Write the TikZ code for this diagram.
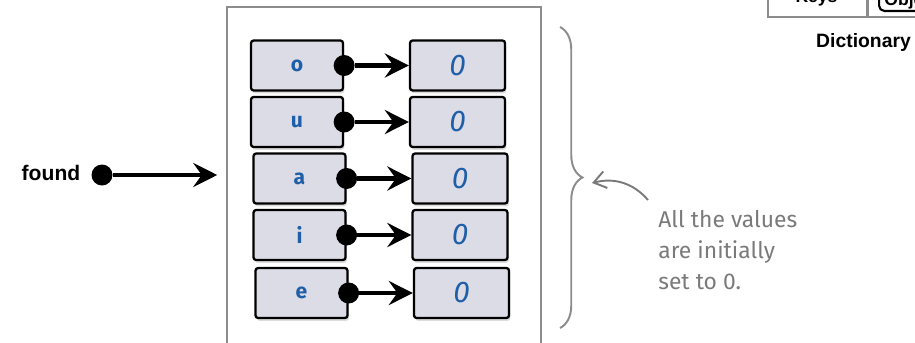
\documentclass[tikz,border=0pt]{standalone}
\usepackage{fontspec}
\setmainfont{Liberation Sans}
\newfontfamily\handfont{Fira Sans}
\usetikzlibrary{positioning,arrows.meta,shadows,decorations.pathreplacing}
\definecolor{keyblue}{HTML}{1F5FA8}
\definecolor{boxfill}{HTML}{DCDCE6}
\definecolor{framegray}{HTML}{8C8C8C}
\definecolor{notegray}{HTML}{7A7A7A}
\tikzset{
  flowarrow/.style={-{Stealth[length=4.8mm,width=4.8mm,inset=1.7mm]}, line width=2.6pt},
  notearrow/.style={-{Straight Barb[length=2.4mm,width=3.4mm]}, draw=notegray, line width=1.1pt},
  keybox/.style={draw, line width=1.3pt, rounded corners=1.5pt, fill=boxfill, drop shadow={shadow xshift=0.8pt, shadow yshift=-1.6pt, fill=gray!55}, minimum width=1.84cm, minimum height=1.0cm, font=\handfont\bfseries\fontsize{12}{12}\selectfont, text=keyblue},
  valbox/.style={keybox, minimum width=1.9cm, font=\handfont\itshape\fontsize{17}{17}\selectfont},
  pindot/.style={circle, fill=black, minimum size=4.2mm, inner sep=0pt},
  framebox/.style={draw=framegray, line width=1.1pt, minimum width=6.28cm, minimum height=6.9cm},
  bracemark/.style={draw=framegray, line width=1.1pt, decorate, decoration={brace, amplitude=4.5mm}},
  note/.style={text=notegray, font=\handfont\fontsize{13}{17.6}\selectfont, align=left, inner sep=0pt},
  cellbox/.style={draw=framegray, line width=0.9pt, inner sep=0pt},
  objbox/.style={draw, line width=1.2pt, rounded corners=3pt, inner sep=0pt}
}
\begin{document}
\begin{tikzpicture}
  \useasboundingbox (0,0) rectangle (18.3,-6.84);
  \clip (0,0) rectangle (18.3,-6.84);
  % top right corner of the dictionary table
  \node[cellbox, anchor=south west, minimum width=1.98cm, minimum height=0.8cm] (keys) at (15.34,-0.36) {};
  \node[cellbox, anchor=south west, minimum width=2.0cm, minimum height=0.8cm] (objs) at (keys.south east) {};
  \node[font=\bfseries, anchor=base] (keystext) at (16.33,-0.04) {Keys};
  \node[objbox, anchor=south west, minimum width=1.2cm, minimum height=0.6cm] (obj) at (17.56,-0.24) {};
  \node[font=\bfseries, anchor=base west, inner sep=0pt] (objtext) at (17.68,-0.1) {Objects};
  \node[font=\bfseries\fontsize{11}{13}\selectfont] (dict) at (17.27,-0.86) {Dictionary};
  % the dictionary
  \node[framebox] (frame) at (7.68,-3.59) {};
  \node[keybox] (ko) at (5.94,-1.31) {o};
  \node[valbox] (vo) at (9.15,-1.31) {0};
  \node[keybox] (ku) at (5.94,-2.44) {u};
  \node[valbox] (vu) at (9.15,-2.44) {0};
  \node[keybox] (ka) at (5.99,-3.57) {a};
  \node[valbox] (va) at (9.20,-3.57) {0};
  \node[keybox] (ki) at (5.99,-4.70) {i};
  \node[valbox] (vi) at (9.20,-4.70) {0};
  \node[keybox] (ke) at (6.03,-5.86) {e};
  \node[valbox] (ve) at (9.23,-5.86) {0};
  \node[pindot] (do) at (ko.east) {};
  \node[pindot] (du) at (ku.east) {};
  \node[pindot] (da) at (ka.east) {};
  \node[pindot] (di) at (ki.east) {};
  \node[pindot] (de) at (ke.east) {};
  \draw[flowarrow] (do) -- (vo);
  \draw[flowarrow] (du) -- (vu);
  \draw[flowarrow] (da) -- (va);
  \draw[flowarrow] (di) -- (vi);
  \draw[flowarrow] (de) -- (ve);
  % the variable
  \node[font=\bfseries\fontsize{12}{14}\selectfont] (found) at (1.02,-3.46) {found};
  \node[pindot] (fdot) at (2.04,-3.50) {};
  \draw[flowarrow] (fdot) -- ([xshift=-5pt]fdot -| frame.west);
  % annotation
  \draw[bracemark] (11.2,-0.54) -- (11.2,-6.56);
  \node[note, anchor=north west] (note) at (13.16,-4.20) {All the values\\are initially\\set to 0.};
  \coordinate (tip) at (11.84,-3.66);
  \coordinate (tail) at (12.96,-4.00);
  \draw[notearrow] (tail) to[out=131,in=14] (tip);
\end{tikzpicture}
\end{document}
